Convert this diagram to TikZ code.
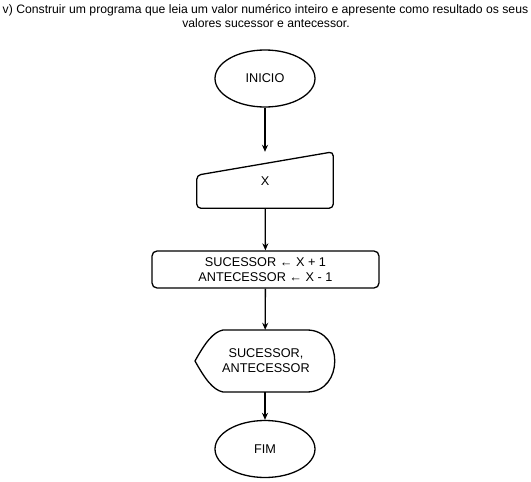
\documentclass[tikz,border=0pt]{standalone}
\usepackage{fontspec}
\setmainfont{Liberation Sans}
\usetikzlibrary{arrows.meta,calc,shapes.geometric}
\begin{document}
\begin{tikzpicture}[x=1pt,y=-1pt,
  lw/.style={line width=1.3pt},
  arr/.style={lw,-{Stealth[length=7pt,width=6pt]}},
  txt/.style={font=\fontsize{12.7}{15}\selectfont,inner sep=0pt,align=center},
  ttl/.style={font=\fontsize{12.2}{13}\selectfont,inner sep=0pt,align=center},
  term/.style={ellipse,draw,lw,minimum width=100pt,minimum height=57pt,font=\fontsize{12.7}{15}\selectfont}
]
\useasboundingbox (0,0) rectangle (531,482);
\node[ttl] (t1) at (265.5,10) {v) Construir um programa que leia um valor numérico inteiro e apresente como resultado os seus};
\node[ttl] (t2) at (266,23) {valores sucessor e antecessor.};

\node[term] (ini) at (265,78.5) {INICIO};

\node[txt,minimum width=136pt,minimum height=56pt] (inp) at (265,180) {};
\draw[lw,rounded corners=4pt] ([yshift=33pt]inp.south west) -- (inp.north east) -- (inp.south east) -- (inp.south west) -- cycle;
\node[txt] at (265,181) {X};

\node[draw,lw,rounded corners=5pt,minimum width=227pt,minimum height=37pt,txt] (proc) at (265.5,269.5) {SUCESSOR ← X + 1\\ANTECESSOR ← X - 1};

\node[txt,minimum width=140pt,minimum height=62pt] (out) at (265,361) {};
\draw[lw] (195,361) .. controls (205,343) and (213,332) .. (223,330) -- (307,330) .. controls (344,330) and (344,392) .. (307,392) -- (223,392) .. controls (213,390) and (205,379) .. (195,361) -- cycle;
\node[txt] at (266,361) {SUCESSOR,\\ANTECESSOR};

\node[term] (fim) at (265,449) {FIM};

\draw[arr] (ini) -- (inp);
\draw[arr] (inp) -- (proc);
\draw[arr] (proc) -- (out);
\draw[arr] (out) -- (fim);
\end{tikzpicture}
\end{document}
